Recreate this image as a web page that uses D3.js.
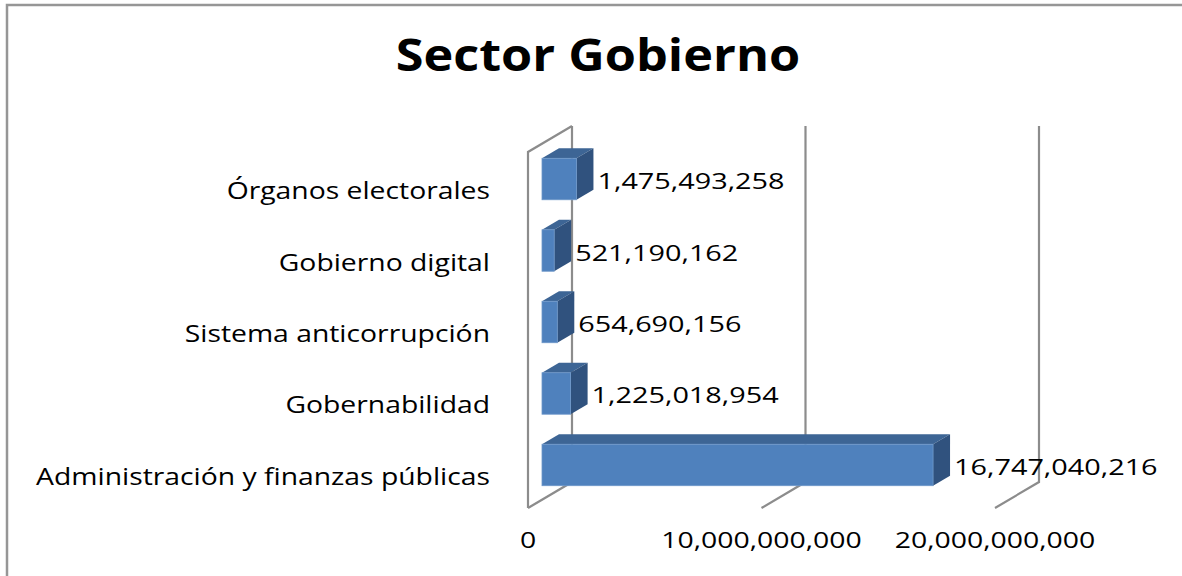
<!DOCTYPE html>
<html>
<head>
  <meta charset="utf-8">
  <title>Sector Gobierno</title>
  <script src="https://d3js.org/d3.v7.min.js"></script>
  <style>
    body { margin: 0; background: #fff; }
    text { font-family: "Open Sans", sans-serif; fill: #000; }
  </style>
</head>
<body>
  <div id="chart"></div>

  <script>
    // data (top to bottom)
    var categories = ['Órganos electorales', 'Gobierno digital', 'Sistema anticorrupción',
                      'Gobernabilidad', 'Administración y finanzas públicas'];
    var values = [1475493258, 521190162, 654690156, 1225018954, 16747040216];
    var tickValues = [0, 10000000000, 20000000000];
    var tickLabels = ['0', '10,000,000,000', '20,000,000,000'];

    var W = 1182, H = 576;

    // 3d depth of the walls and of the bars
    var wallDx = 44, wallDy = -26;
    var barOffX = 14, barOffY = -8;
    var barDx = 17, barDy = -10;

    var svg = d3.select('#chart')
                .append('svg')
                  .attr('width', W)
                  .attr('height', H);

    // outer frame (right and bottom fall off the picture)
    svg.append('rect')
         .attr('x', 7).attr('y', 5)
         .attr('width', W + 10).attr('height', H + 10)
         .style('fill', 'none')
         .style('stroke', '#969696')
         .style('stroke-width', 2.5);

    var x = d3.scaleLinear().domain([0, 20000000000]).range([528, 995]);
    var y = d3.scaleBand().domain(categories)
              .range([152, 508])
              .paddingInner(0.42)
              .paddingOuter(0.2);

    var floorY = 508, topY = 152;
    var grid = svg.append('g')
                  .style('stroke', '#8c8c8c')
                  .style('stroke-width', 2.2)
                  .style('fill', 'none');

    // back wall lines + floor diagonals
    tickValues.forEach(function(t) {
      grid.append('path')
          .attr('d', 'M' + x(t) + ',' + floorY +
                     'L' + (x(t) + wallDx) + ',' + (floorY + wallDy) +
                     'L' + (x(t) + wallDx) + ',' + (topY + wallDy));
    });
    // left side wall
    grid.append('path')
        .attr('d', 'M' + x(0) + ',' + floorY + 'L' + x(0) + ',' + topY +
                   'L' + (x(0) + wallDx) + ',' + (topY + wallDy));

    // bars
    var bars = svg.selectAll('.bar')
                  .data(categories)
                  .enter()
                  .append('g')
                    .attr('class', 'bar');

    function fx(i) { return x(0) + barOffX; }
    function fy(d) { return y(d) + barOffY; }
    function fw(i) { return x(values[i]) - x(0); }
    var bh = y.bandwidth();

    // top face
    bars.append('path')
        .attr('d', function(d, i) {
          var x0 = fx(i), y0 = fy(d), w = fw(i);
          return 'M' + x0 + ',' + y0 + 'L' + (x0 + barDx) + ',' + (y0 + barDy) +
                 'L' + (x0 + w + barDx) + ',' + (y0 + barDy) + 'L' + (x0 + w) + ',' + y0 + 'Z';
        })
        .style('fill', '#3d6595');

    // side face
    bars.append('path')
        .attr('d', function(d, i) {
          var x0 = fx(i) + fw(i), y0 = fy(d);
          return 'M' + x0 + ',' + y0 + 'L' + (x0 + barDx) + ',' + (y0 + barDy) +
                 'L' + (x0 + barDx) + ',' + (y0 + barDy + bh) + 'L' + x0 + ',' + (y0 + bh) + 'Z';
        })
        .style('fill', '#30527e');

    // front face
    bars.append('rect')
        .attr('x', function(d, i) { return fx(i); })
        .attr('y', function(d) { return fy(d); })
        .attr('width', function(d, i) { return fw(i); })
        .attr('height', bh)
        .style('fill', '#4f81bd')
        .style('stroke', '#6d97c9')
        .style('stroke-width', 0.8);

    // value labels
    var fmt = d3.format(',');
    bars.append('text')
        .attr('transform', function(d, i) {
          return 'translate(' + (fx(i) + fw(i) + barDx + 4) + ',' + (fy(d) + bh / 2 + 10) + ') scale(1.31,1)';
        })
        .style('font-size', '22px')
        .text(function(d, i) { return fmt(values[i]); });

    // category labels
    svg.selectAll('.cat')
       .data(categories)
       .enter()
       .append('text')
         .attr('class', 'cat')
         .attr('transform', function(d) {
           return 'translate(490,' + (y(d) + bh / 2 + 12) + ') scale(1.18,1)';
         })
         .attr('text-anchor', 'end')
         .style('font-size', '24px')
         .text(function(d) { return d; });

    // value axis tick labels
    svg.selectAll('.tick-label')
       .data(tickValues)
       .enter()
       .append('text')
         .attr('class', 'tick-label')
         .attr('transform', function(d) { return 'translate(' + x(d) + ',548) scale(1.29,1)'; })
         .attr('text-anchor', 'middle')
         .style('font-size', '22px')
         .text(function(d, i) { return tickLabels[i]; });

    // title
    svg.append('text')
       .attr('transform', 'translate(598,71) scale(1.12,1)')
       .attr('text-anchor', 'middle')
       .style('font-size', '45px')
       .style('font-weight', 'bold')
       .text('Sector Gobierno');
  </script>
</body>
</html>
